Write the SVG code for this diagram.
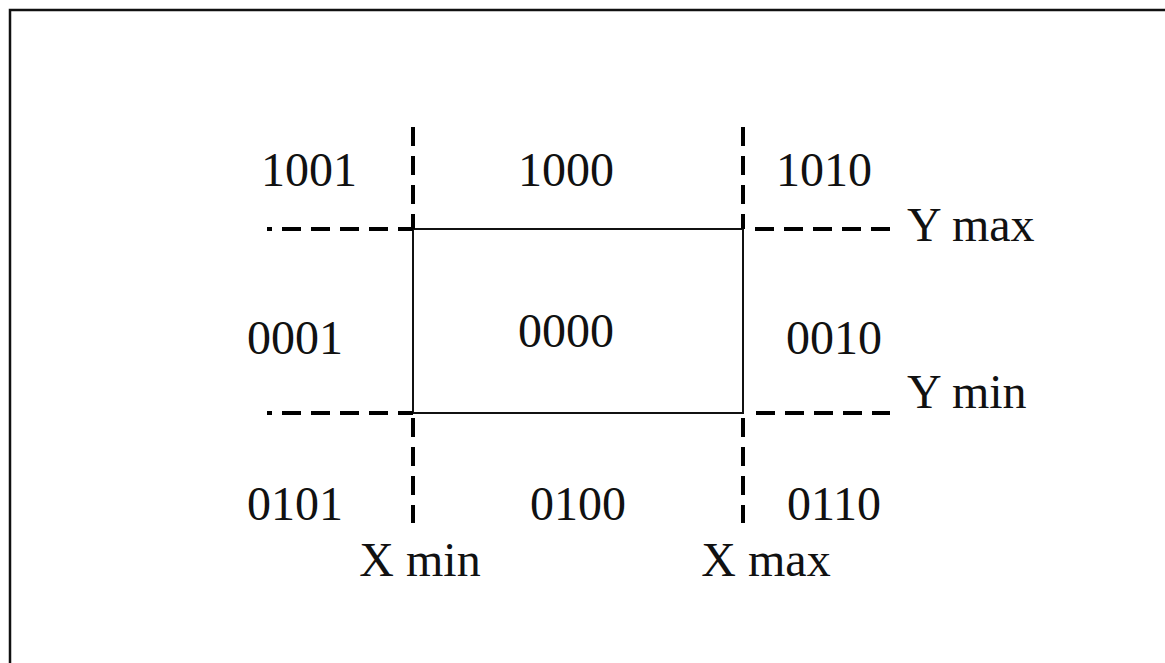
<svg xmlns="http://www.w3.org/2000/svg" width="1165" height="663" viewBox="0 0 1165 663">
  <style>
    .frame { fill: none; stroke: #111; stroke-width: 2.5; }
    .window { fill: none; stroke: #111; stroke-width: 2; }
    .bound { fill: none; stroke: #000; stroke-width: 4; stroke-dasharray: 19 10; }
    .code { font-family: "Liberation Serif", "Times New Roman", serif; font-size: 48px; fill: #111; text-anchor: middle; }
    .label { font-family: "Liberation Serif", "Times New Roman", serif; font-size: 48px; fill: #111; }
  </style>
  <rect width="1165" height="663" fill="#fff"/>
  <!-- outer frame, open at right and bottom edges -->
  <rect class="frame" x="10" y="10" width="1200" height="700"/>

  <!-- clipping window boundaries -->
  <g id="connectors">
    <rect class="window" x="413" y="229" width="330" height="184"/>
    <!-- Y max -->
    <path class="bound" d="M 282 229 H 413"/>
    <path d="M 267 229 H 272" stroke="#000" stroke-width="4"/>
    <path class="bound" d="M 755 229 H 890"/>
    <!-- Y min -->
    <path class="bound" d="M 282 413 H 413"/>
    <path d="M 267 413 H 272" stroke="#000" stroke-width="4"/>
    <path class="bound" d="M 756 413 H 890"/>
    <!-- X min -->
    <path class="bound" d="M 413 127 V 229"/>
    <path class="bound" d="M 413 418 V 523"/>
    <!-- X max -->
    <path class="bound" d="M 743 127 V 229"/>
    <path class="bound" d="M 743 418 V 523"/>
  </g>

  <!-- region outcodes -->
  <g id="r1001"><text class="code" x="309" y="186">1001</text></g>
  <g id="r1000"><text class="code" x="566" y="186">1000</text></g>
  <g id="r1010"><text class="code" x="824" y="186">1010</text></g>
  <g id="r0001"><text class="code" x="295" y="354">0001</text></g>
  <g id="r0000"><text class="code" x="566" y="347">0000</text></g>
  <g id="r0010"><text class="code" x="834" y="354">0010</text></g>
  <g id="r0101"><text class="code" x="295" y="520">0101</text></g>
  <g id="r0100"><text class="code" x="578" y="520">0100</text></g>
  <g id="r0110"><text class="code" x="834" y="520">0110</text></g>

  <!-- boundary labels -->
  <g id="ymax"><text class="label" x="907" y="241">Y max</text></g>
  <g id="ymin"><text class="label" x="907" y="408">Y min</text></g>
  <g id="xmin"><text class="code" x="420" y="576">X min</text></g>
  <g id="xmax"><text class="code" x="766" y="576">X max</text></g>
</svg>
